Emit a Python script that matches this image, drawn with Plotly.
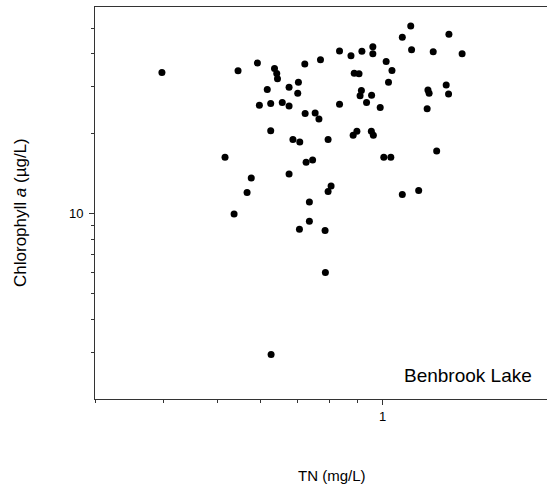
import plotly.graph_objects as go

# TN (mg/L) and Chlorophyll a (ug/L)
tn = [0.397, 0.546, 0.517, 0.577, 0.567, 0.537, 0.592, 0.636, 0.642, 0.644,
      0.722, 0.771, 0.835, 0.876, 0.917, 0.960, 0.960, 1.086, 1.125, 1.129,
      1.236, 1.320, 1.395, 1.015, 1.040, 1.025, 0.888, 0.906, 0.703, 0.676,
      0.617, 0.701, 0.597, 0.626, 0.657, 0.676, 0.723, 0.754, 0.766, 0.835,
      0.915, 0.910, 0.955, 0.935, 0.990, 1.209, 1.215, 1.305, 1.318, 1.205,
      0.626, 0.687, 0.707, 0.796, 0.884, 0.898, 0.954, 0.962, 1.254, 1.005,
      1.035, 0.726, 0.746, 0.676, 0.806, 0.796, 1.086, 1.163, 0.736, 0.736,
      0.706, 0.786, 0.787, 0.627]
chla = [34.0, 34.5, 16.3, 13.6, 12.0, 9.95, 36.9, 35.2, 33.7, 32.2,
        36.6, 38.0, 41.0, 39.3, 40.9, 42.5, 40.0, 46.1, 50.9, 41.4,
        40.7, 47.4, 40.0, 37.4, 34.6, 31.2, 33.8, 33.6, 31.2, 29.9,
        29.3, 28.4, 25.6, 26.0, 26.2, 25.4, 23.8, 23.9, 22.7, 25.8,
        29.1, 27.8, 27.9, 26.2, 25.1, 29.2, 28.4, 30.5, 28.2, 24.8,
        20.5, 19.0, 18.6, 19.0, 19.7, 20.4, 20.4, 19.7, 17.2, 16.3,
        16.3, 15.6, 15.9, 14.1, 12.7, 12.1, 11.8, 12.2, 11.05, 9.36,
        8.73, 8.63, 5.99, 2.94]

x_major = [1]
x_major_labels = ["1"]
x_minor = [0.3, 0.4, 0.5, 0.6, 0.7, 0.8, 0.9]
y_major = [10]
y_major_labels = ["10"]
y_minor = [3, 4, 5, 6, 7, 8, 9, 20, 30, 40, 50]

FONT = "Liberation Sans, Arial, sans-serif"
AX = "#333333"

fig = go.Figure(go.Scatter(
    x=tn, y=chla, mode="markers",
    marker=dict(color="black", size=7, line=dict(width=0)),
    showlegend=False,
))

fig.update_layout(
    width=547, height=497,
    margin=dict(l=95, r=0, t=7, b=98),
    paper_bgcolor="white", plot_bgcolor="white",
    font=dict(family=FONT, size=13, color="black"),
    xaxis=dict(
        type="log", range=[-0.5229, 0.2989],
        showgrid=False, zeroline=False,
        showline=True, linecolor=AX, linewidth=1, mirror=True,
        tickmode="array", tickvals=x_major, ticktext=x_major_labels,
        ticks="outside", ticklen=5, tickcolor=AX, tickwidth=1,
        tickfont=dict(size=13),
        minor=dict(tickmode="array", tickvals=x_minor, ticks="outside",
                   ticklen=3, tickcolor=AX, tickwidth=1, showgrid=False),
    ),
    yaxis=dict(
        type="log", range=[0.30103, 1.77815],
        showgrid=False, zeroline=False,
        showline=True, linecolor=AX, linewidth=1, mirror=False,
        tickmode="array", tickvals=y_major, ticktext=y_major_labels,
        ticks="outside", ticklen=5, tickcolor=AX, tickwidth=1,
        tickfont=dict(size=13), ticklabelstandoff=3,
        minor=dict(tickmode="array", tickvals=y_minor, ticks="outside",
                   ticklen=3, tickcolor=AX, tickwidth=1, showgrid=False),
    ),
    annotations=[
        dict(text="TN (mg/L)", xref="paper", yref="paper",
             x=0.524, y=-0.194, xanchor="center", yanchor="middle",
             showarrow=False, font=dict(size=15)),
        dict(text="Chlorophyll <i>a</i> (µg/L)", xref="paper", yref="paper",
             x=-0.166, y=0.477, xanchor="center", yanchor="middle",
             textangle=-90, showarrow=False, font=dict(size=17)),
        dict(text="Benbrook Lake", xref="paper", yref="paper",
             x=0.971, y=0.0612, xanchor="right", yanchor="middle",
             showarrow=False, font=dict(size=19)),
    ],
)

fig.write_html("out.html")
